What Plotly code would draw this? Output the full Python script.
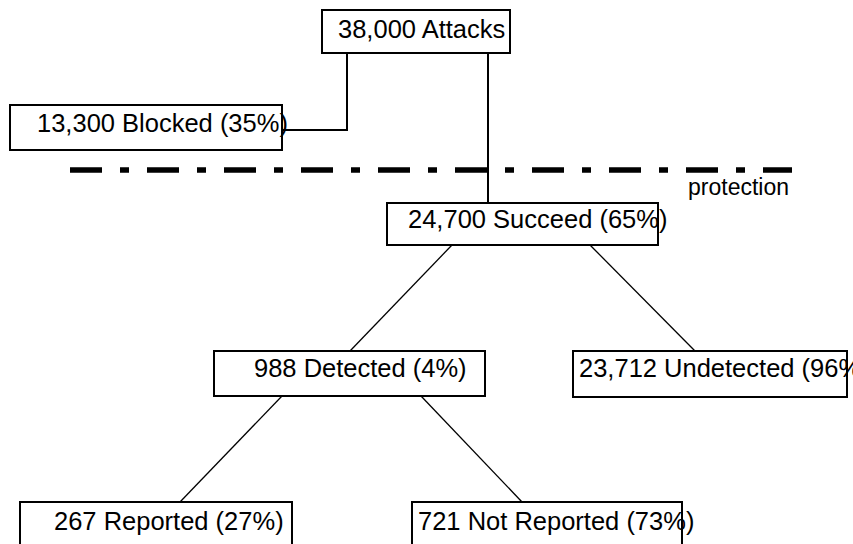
import plotly.graph_objects as go

# ---- data ----
node_names = ["Attacks", "Blocked", "Succeed", "Detected", "Undetected", "Reported", "Not Reported"]
node_counts = [38000, 13300, 24700, 988, 23712, 267, 721]
node_pcts = [None, 35, 65, 4, 96, 27, 73]
divider_label = "protection"

# ---- layout (pixel coordinates on a 853x544 canvas) ----
box_x0 = [322, 10, 387, 214, 573, 20, 412]
box_x1 = [510, 282, 658, 485, 847, 292, 682]
box_y0 = [10, 105, 203, 351, 351, 502, 502]
box_y1 = [53, 150, 245, 396, 397, 560, 560]
text_x = [336, 35, 406, 252, 577, 52, 416]
text_y = [29, 123, 219, 368, 368, 521, 521]

# connectors: list of polylines (x list, y list, width)
connectors = [
    ([347, 347, 282], [53, 130, 130], 2),
    ([488, 488], [53, 203], 2),
    ([452, 350], [245, 351], 1.3),
    ([590, 695], [245, 351], 1.3),
    ([282, 180], [396, 502], 1.3),
    ([421, 522], [396, 502], 1.3),
]

FONT = "Liberation Sans, Arial, sans-serif"

fig = go.Figure()
fig.add_trace(go.Scatter(x=[0], y=[0], mode="markers", marker=dict(opacity=0), hoverinfo="skip", showlegend=False))

shapes = []
annotations = []

# divider line
shapes.append(dict(type="line", xref="x", yref="y", x0=70, x1=792, y0=170, y1=170,
                   line=dict(color="black", width=5.5, dash="32px,18px,9px,18px"), layer="above"))
annotations.append(dict(x=686, y=187, xref="x", yref="y", text=divider_label, showarrow=False,
                        xanchor="left", yanchor="middle", font=dict(family=FONT, size=23, color="black")))

for xs, ys, w in connectors:
    path = "M " + " L ".join(f"{x},{y}" for x, y in zip(xs, ys))
    shapes.append(dict(type="path", xref="x", yref="y", path=path,
                       line=dict(color="black", width=w), layer="above"))

for i, name in enumerate(node_names):
    shapes.append(dict(type="rect", xref="x", yref="y", x0=box_x0[i], x1=box_x1[i], y0=box_y0[i], y1=box_y1[i],
                       line=dict(color="black", width=2), fillcolor="white", layer="above"))
    label = f"{node_counts[i]:,} {name}"
    if node_pcts[i] is not None:
        label += f" ({node_pcts[i]}%)"
    annotations.append(dict(x=text_x[i], y=text_y[i], xref="x", yref="y", text=label, showarrow=False,
                            xanchor="left", yanchor="middle",
                            font=dict(family=FONT, size=25.5, color="black")))

fig.update_layout(
    width=853, height=544,
    margin=dict(l=0, r=0, t=0, b=0),
    paper_bgcolor="white", plot_bgcolor="white",
    xaxis=dict(range=[0, 853], visible=False, fixedrange=True),
    yaxis=dict(range=[544, 0], visible=False, fixedrange=True),
    shapes=shapes, annotations=annotations,
    showlegend=False,
)

fig.write_html("out.html", config={"displayModeBar": False},
               post_script="document.body.style.margin='0';")
